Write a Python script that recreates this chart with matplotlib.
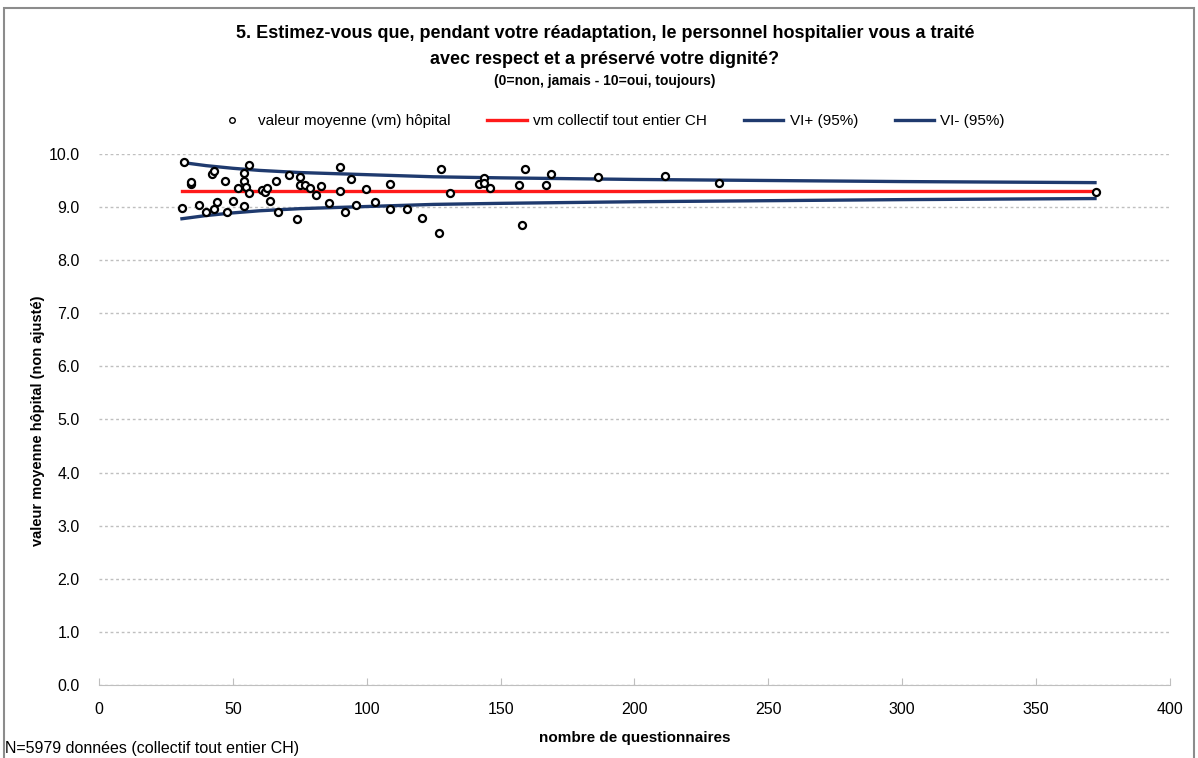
import numpy as np
import matplotlib.pyplot as plt
from matplotlib.lines import Line2D
from matplotlib.patches import Rectangle

plt.rcParams['font.family'] = ['Liberation Sans', 'DejaVu Sans']

#Hospital means (number of questionnaires, mean value)
n_quest = [31.9, 34.2, 34.2, 42.1, 43.1, 47.0, 56.0, 54.1, 54.0, 54.9, 51.9, 55.9,
           61.0, 62.2, 62.9, 66.1, 70.9, 74.9, 74.9, 77.0, 79.0, 81.0, 83.1, 90.1,
           90.1, 94.1, 99.9, 103.1, 31.0, 37.2, 40.0, 43.0, 44.1, 47.9, 50.0, 54.1,
           63.9, 67.0, 73.9, 86.1, 92.0, 96.0, 108.8, 108.8, 115.0, 120.7, 127.0,
           127.8, 131.0, 142.0, 143.9, 143.9, 146.0, 156.9, 158.1, 159.0, 167.0,
           168.8, 186.5, 211.5, 231.5, 372.5]
vm_hop = [9.85, 9.43, 9.47, 9.62, 9.68, 9.50, 9.79, 9.65, 9.50, 9.38, 9.35, 9.27,
          9.32, 9.29, 9.35, 9.49, 9.60, 9.56, 9.42, 9.42, 9.35, 9.23, 9.40, 9.76,
          9.31, 9.52, 9.34, 9.10, 8.98, 9.03, 8.91, 8.97, 9.10, 8.90, 9.11, 9.02,
          9.12, 8.90, 8.77, 9.08, 8.91, 9.03, 9.44, 8.97, 8.97, 8.80, 8.52,
          9.71, 9.27, 9.43, 9.55, 9.45, 9.35, 9.42, 8.67, 9.72, 9.41,
          9.62, 9.56, 9.59, 9.46, 9.28]

#Overall mean and confidence limits
vm_ch = 9.31
n_min, n_max = 31, 372
ci_n = [31, 40, 50, 60, 75, 100, 125, 150, 200, 250, 300, 372]
ci_upper = [9.84, 9.78, 9.73, 9.69, 9.65, 9.61, 9.57, 9.55, 9.52, 9.50, 9.48, 9.46]
ci_lower = [8.78, 8.84, 8.89, 8.93, 8.97, 9.01, 9.05, 9.07, 9.10, 9.12, 9.14, 9.16]

navy = '#1f3a6e'

fig = plt.figure(figsize=(11.98, 7.58), dpi=100)
ax = fig.add_axes([0.0826, 0.0963, 0.8940, 0.7006])

#outer frame of the chart
fig.patches.append(Rectangle((0.003, -0.01), 0.994, 1.0, transform=fig.transFigure,
                             fill=False, edgecolor='#8c8c8c', lw=1.5))

ax.plot(ci_n, ci_upper, color=navy, lw=2.4, zorder=2)
ax.plot(ci_n, ci_lower, color=navy, lw=2.4, zorder=2)
ax.plot([n_min, n_max], [vm_ch, vm_ch], color='#ff1a1a', lw=2.4, zorder=3)
ax.scatter(n_quest, vm_hop, s=26, facecolors='white', edgecolors='black',
           linewidths=1.6, zorder=4)

ax.set_xlim(0, 400)
ax.set_ylim(0, 10)
ax.set_xticks(np.arange(0, 401, 50))
ax.set_yticks(np.arange(0, 10.1, 1))
ax.set_yticklabels(['%.1f' % v for v in np.arange(0, 10.1, 1)])
ax.yaxis.grid(True, color='#bfbfbf', linestyle=(0, (2, 2)), lw=1)
ax.set_axisbelow(True)
for s in ['top', 'right', 'left']:
    ax.spines[s].set_visible(False)
ax.spines['bottom'].set_color('#bfbfbf')
ax.tick_params(axis='y', length=0, labelsize=11.5, pad=14)
ax.tick_params(axis='x', direction='in', length=5, color='#bfbfbf', labelsize=11.5, pad=12)

ax.set_xlabel('nombre de questionnaires', fontsize=11, fontweight='bold', labelpad=10)
fig.text(0.032, 0.445, 'valeur moyenne hôpital (non ajusté)', rotation=90,
         ha='center', va='center', fontsize=10.5, fontweight='bold')

#titles
fig.text(0.505, 0.956, '5. Estimez-vous que, pendant votre réadaptation, le personnel hospitalier vous a traité',
         ha='center', va='center', fontsize=13, fontweight='bold')
fig.text(0.505, 0.921, 'avec respect et a préservé votre dignité?',
         ha='center', va='center', fontsize=13, fontweight='bold')
fig.text(0.505, 0.893, '(0=non, jamais - 10=oui, toujours)',
         ha='center', va='center', fontsize=10, fontweight='bold')

handles = [Line2D([], [], marker='o', ls='none', markerfacecolor='white', markeredgecolor='black',
                  markersize=4, markeredgewidth=1),
           Line2D([], [], color='#ff1a1a', lw=2.4),
           Line2D([], [], color=navy, lw=2.4),
           Line2D([], [], color=navy, lw=2.4)]
labels = ['valeur moyenne (vm) hôpital', 'vm collectif tout entier CH', 'VI+ (95%)', 'VI- (95%)']
fig.legend(handles, labels, loc='center', bbox_to_anchor=(0.508, 0.84), ncol=4, frameon=False,
           fontsize=11, handlelength=2.6, handletextpad=0.4, columnspacing=2.4)

fig.text(0.004, 0.012, 'N=5979 données (collectif tout entier CH)', ha='left', va='center', fontsize=11.5)

plt.savefig('out.png', dpi=100)
